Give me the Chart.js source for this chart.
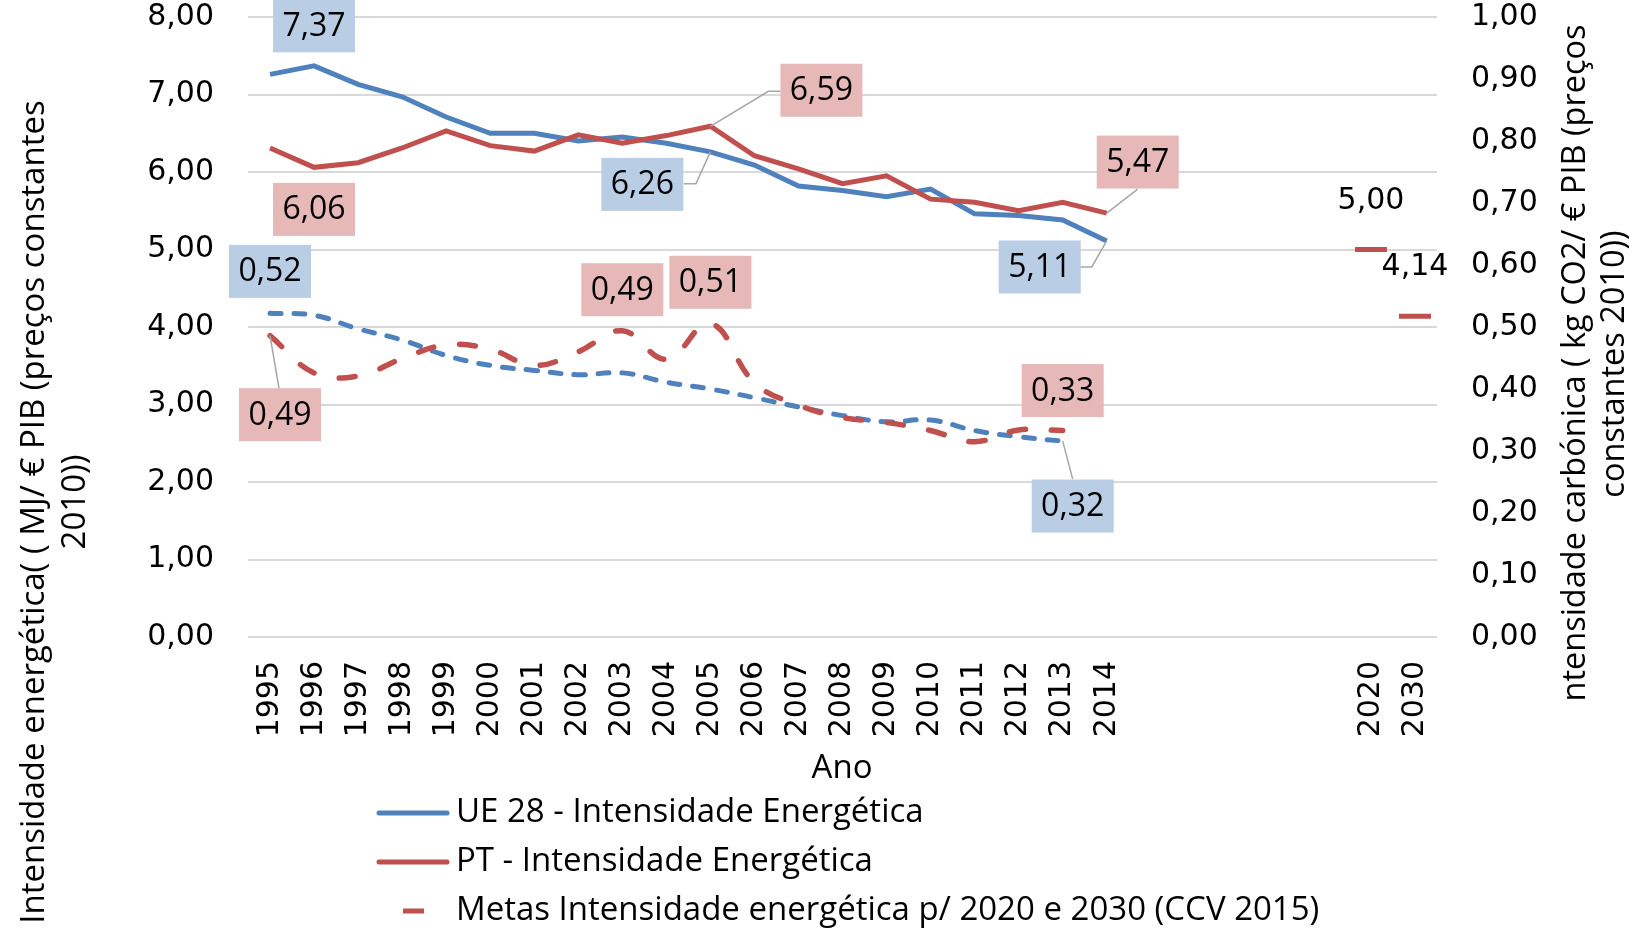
<!DOCTYPE html>
<html>
<head>
<meta charset="utf-8">
<script src="https://cdn.jsdelivr.net/npm/chart.js@4.4.1/dist/chart.umd.min.js"></script>
<style>
html,body{margin:0;padding:0;background:#fff;overflow:hidden}
canvas{display:block}
</style>
</head>
<body>
<canvas id="c" width="1637" height="931"></canvas>
<script>
// ---------- DATA ----------
const years = ['1995','1996','1997','1998','1999','2000','2001','2002','2003','2004','2005','2006','2007','2008','2009','2010','2011','2012','2013','2014','','','','','','2020','2030'];
const ueEnergy = [7.26,7.37,7.13,6.97,6.71,6.50,6.50,6.40,6.45,6.37,6.26,6.09,5.82,5.76,5.68,5.78,5.46,5.44,5.38,5.11];
const ptEnergy = [6.31,6.06,6.12,6.31,6.53,6.34,6.27,6.48,6.37,6.47,6.59,6.21,6.04,5.85,5.95,5.65,5.61,5.50,5.61,5.47];
const metasEnergy = [null,null,null,null,null,null,null,null,null,null,null,null,null,null,null,null,null,null,null,null,null,null,null,null,null,5.00,4.14];
const ueCarbon = [0.522,0.519,0.497,0.479,0.454,0.438,0.430,0.423,0.426,0.411,0.400,0.386,0.371,0.357,0.347,0.350,0.333,0.323,0.316];
const ptCarbon = [0.486,0.426,0.421,0.449,0.471,0.464,0.438,0.460,0.494,0.448,0.506,0.410,0.374,0.354,0.346,0.333,0.315,0.334,0.333];
const leftTicksMax = 8;
const rightTicksMax = 1;
const seriesNames = ['UE 28 - Intensidade Energética','PT - Intensidade Energética','Metas Intensidade energética p/ 2020 e 2030 (CCV 2015)'];
const xTitle = 'Ano';
const leftTitle = ['Intensidade energética( ( MJ/ € PIB (preços constantes','2010))'];
const rightTitle = ['ntensidade carbónica ( kg CO2/ € PIB (preços','constantes 2010))'];

// ---------- STYLE ----------
const BLUE = '#4f81bd', RED = '#c0504d';
const BLUE_BOX = '#b9cde5', RED_BOX = '#e6b9b8';
const TICK_FONT = {family:'DejaVu Sans', size:30};
const TEXT_FAMILY = '"Open Sans", "Liberation Sans", sans-serif';
const fmt = v => v.toFixed(2).replace('.', ',');

// data label placement (dataset index, point index, offsets from point, box colour, leader points)
const labelSpecs = [
  {ds:0, i:1,  dx:0,   dy:-40, box:BLUE_BOX},
  {ds:1, i:1,  dx:0,   dy:42,  box:RED_BOX},
  {ds:0, i:10, dx:-68, dy:32.5, box:BLUE_BOX, leader:[[-14.5,32],[-26.5,32]]},
  {ds:1, i:10, dx:111, dy:-36, box:RED_BOX, leader:[[58,-35],[70,-35]]},
  {ds:1, i:19, dx:31,  dy:-51, box:RED_BOX, leader:[[31,-24]]},
  {ds:0, i:19, dx:-67, dy:26,  box:BLUE_BOX, leader:[[-15,26],[-27,26]]},
  {ds:3, i:0,  dx:0,   dy:-42, box:BLUE_BOX},
  {ds:4, i:0,  dx:10,  dy:79,  box:RED_BOX, leader:[[9,53]]},
  {ds:4, i:8,  dx:0,   dy:-41, box:RED_BOX},
  {ds:4, i:10, dx:0,   dy:-41, box:RED_BOX},
  {ds:4, i:18, dx:0,   dy:-40, box:RED_BOX},
  {ds:3, i:18, dx:10,  dy:65,  box:BLUE_BOX, leader:[[10,38]]},
  {ds:2, i:25, dx:0,   dy:-49, box:null},
  {ds:2, i:26, dx:0,   dy:-50, box:null}
];

const overlay = {
  id:'overlay',
  afterDraw(chart){
    const ctx = chart.ctx;
    ctx.save();
    // data labels
    labelSpecs.forEach(s => {
      const p = chart.getDatasetMeta(s.ds).data[s.i];
      const v = chart.data.datasets[s.ds].data[s.i];
      const cx = p.x + s.dx, cy = p.y + s.dy;
      if (s.leader){
        ctx.beginPath();
        ctx.strokeStyle = '#a6a6a6';
        ctx.lineWidth = 1.5;
        ctx.moveTo(p.x, p.y);
        s.leader.forEach(q => ctx.lineTo(p.x + q[0], p.y + q[1]));
        ctx.stroke();
      }
      if (s.box){
        ctx.fillStyle = s.box;
        ctx.fillRect(cx - 41, cy - 26.5, 82, 53);
        ctx.font = '32px ' + TEXT_FAMILY;
      } else {
        ctx.font = '30px "DejaVu Sans"';
      }
      ctx.fillStyle = '#000';
      ctx.textAlign = 'center';
      ctx.textBaseline = 'middle';
      ctx.fillText(fmt(v), cx, cy + 1);
    });
    // axis titles
    ctx.fillStyle = '#000';
    ctx.font = '33px ' + TEXT_FAMILY;
    ctx.textAlign = 'center';
    ctx.textBaseline = 'middle';
    ctx.save();
    ctx.rotate(-Math.PI/2);
    ctx.fillText(leftTitle[0], -512, 35);
    ctx.fillText(leftTitle[1], -502, 76);
    ctx.font = '32.5px ' + TEXT_FAMILY;
    ctx.fillText(rightTitle[0], -363, 1576);
    ctx.fillText(rightTitle[1], -364, 1615);
    ctx.restore();
    ctx.font = '33px ' + TEXT_FAMILY;
    ctx.fillText(xTitle, 842, 769);
    // legend
    const legendY = [813, 862, 911];
    ctx.textAlign = 'left';
    [BLUE, RED].forEach((c, k) => {
      ctx.beginPath();
      ctx.strokeStyle = c;
      ctx.lineWidth = 5;
      ctx.lineCap = 'round';
      ctx.moveTo(379, legendY[k]);
      ctx.lineTo(447, legendY[k]);
      ctx.stroke();
    });
    ctx.beginPath();
    ctx.strokeStyle = RED;
    ctx.lineWidth = 5;
    ctx.lineCap = 'butt';
    ctx.moveTo(403, legendY[2]);
    ctx.lineTo(424, legendY[2]);
    ctx.stroke();
    seriesNames.forEach((n, k) => ctx.fillText(n, 456, legendY[k]));
    ctx.restore();
  }
};

function noPad(s){ s.paddingTop = 0; s.paddingBottom = 0; }

new Chart(document.getElementById('c'), {
  type:'line',
  data:{
    labels: years,
    datasets:[
      {label:seriesNames[0], data:ueEnergy, borderColor:BLUE, backgroundColor:BLUE, borderWidth:5, pointRadius:0, tension:0, yAxisID:'y', order:2},
      {label:seriesNames[1], data:ptEnergy, borderColor:RED, backgroundColor:RED, borderWidth:5, pointRadius:0, tension:0, yAxisID:'y', order:1},
      {label:seriesNames[2], data:metasEnergy, showLine:false, pointStyle:'line', pointRadius:16, pointBorderWidth:5, borderColor:RED, pointBorderColor:RED, backgroundColor:RED, yAxisID:'y', order:0},
      {label:'UE 28 - Intensidade Carbónica', data:ueCarbon, borderColor:BLUE, borderWidth:5, borderDash:[11,13], borderCapStyle:'round', pointRadius:0, tension:0.4, yAxisID:'y2', order:4},
      {label:'PT - Intensidade Carbónica', data:ptCarbon, borderColor:RED, borderWidth:5.5, borderDash:[16,26], borderCapStyle:'round', pointRadius:0, tension:0.4, yAxisID:'y2', order:3}
    ]
  },
  options:{
    responsive:false,
    animation:false,
    layout:{autoPadding:false, padding:{top:17, left:0, right:0, bottom:0}},
    plugins:{legend:{display:false}, tooltip:{enabled:false}},
    scales:{
      x:{
        offset:true,
        grid:{display:false, drawTicks:false},
        border:{display:false},
        ticks:{minRotation:90, maxRotation:90, autoSkip:false, padding:24, font:TICK_FONT, color:'#000'},
        afterFit(s){ s.height = 294; }
      },
      y:{
        position:'left', min:0, max:leftTicksMax,
        grid:{color:'#d9d9d9', lineWidth:2, drawTicks:false},
        border:{display:false},
        ticks:{stepSize:1, padding:34, font:TICK_FONT, color:'#000', callback:v => fmt(v)},
        afterFit(s){ s.width = 248; noPad(s); }
      },
      y2:{
        position:'right', min:0, max:rightTicksMax,
        grid:{display:false, drawTicks:false},
        border:{display:false},
        ticks:{stepSize:0.1, padding:34, font:TICK_FONT, color:'#000', callback:v => fmt(v)},
        afterFit(s){ s.width = 200; noPad(s); }
      }
    }
  },
  plugins:[overlay]
});
</script>
</body>
</html>
